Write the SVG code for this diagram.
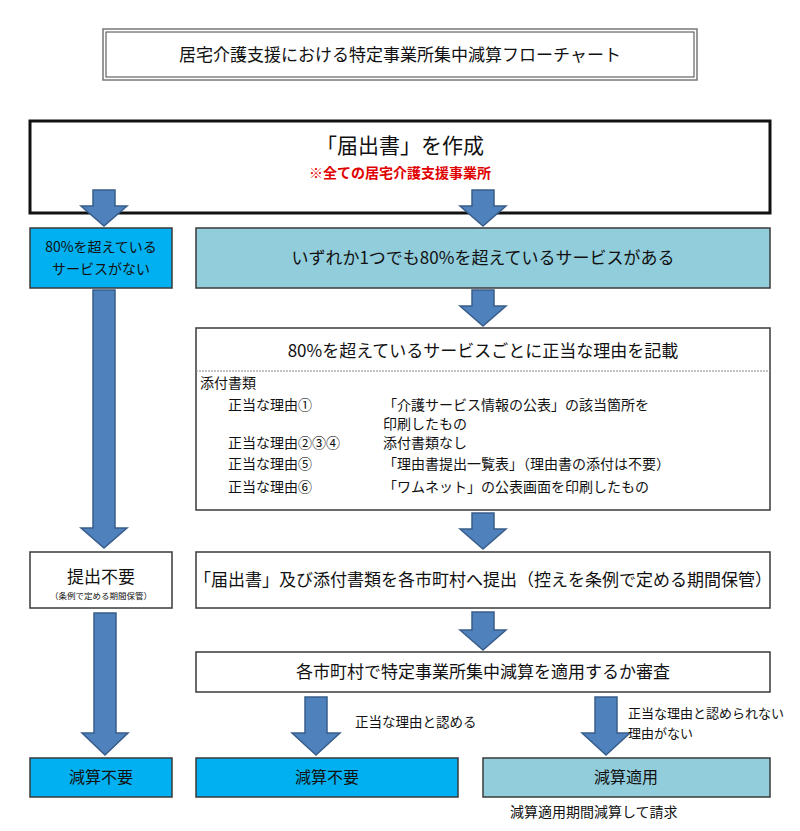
<svg xmlns="http://www.w3.org/2000/svg" width="800" height="831" viewBox="0 0 800 831">
<style>
text{font-family:"Noto Sans CJK JP","Noto Sans CJK SC",sans-serif;fill:#111}
.box{stroke:#3a3a3a;stroke-width:1.5}
.w{fill:#fff}
.b{fill:#00B0F0}
.lb{fill:#92CDDC}
.arr{fill:#4F81BD;stroke:#385D8A;stroke-width:1.5;stroke-linejoin:miter}
.c{text-anchor:middle}
</style>
<rect width="800" height="831" fill="#fff"/>
<g id="title">
<rect x="103" y="29" width="594" height="51" fill="#fff" stroke="#777" stroke-width="1.5"/>
<rect x="106" y="32" width="588" height="45" fill="none" stroke="#444" stroke-width="1"/>
<text x="400" y="61" class="c" font-size="17">居宅介護支援における特定事業所集中減算フローチャート</text>
</g>
<g id="n-create">
<rect x="30" y="121" width="740" height="92" fill="#fff" stroke="#111" stroke-width="3"/>
<text x="400" y="153" class="c" font-size="21">「届出書」を作成</text>
<text x="400" y="178" class="c" font-size="14" font-weight="bold" style="fill:#E00000">※全ての居宅介護支援事業所</text>
</g>
<g id="n-none">
<rect x="30" y="228" width="142" height="60" class="box b"/>
<text x="101" y="252" class="c" font-size="14">80%を超えている</text>
<text x="101" y="274" class="c" font-size="14">サービスがない</text>
</g>
<g id="n-any">
<rect x="196" y="228" width="574" height="60" class="box lb"/>
<text x="483" y="264" class="c" font-size="17">いずれか1つでも80%を超えているサービスがある</text>
</g>
<g id="n-reason">
<rect x="196" y="328" width="574" height="182" class="box w"/>
<line x1="196" y1="371" x2="770" y2="371" stroke="#888" stroke-width="1" stroke-dasharray="2,1"/>
<text x="483" y="357" class="c" font-size="17">80%を超えているサービスごとに正当な理由を記載</text>
<g font-size="14">
<text x="200" y="388">添付書類</text>
<text x="228" y="410">正当な理由①</text>
<text x="383" y="410">「介護サービス情報の公表」の該当箇所を</text>
<text x="383" y="429">印刷したもの</text>
<text x="228" y="448">正当な理由②③④</text>
<text x="383" y="448">添付書類なし</text>
<text x="228" y="469">正当な理由⑤</text>
<text x="383" y="469">「理由書提出一覧表」（理由書の添付は不要）</text>
<text x="228" y="492">正当な理由⑥</text>
<text x="383" y="492">「ワムネット」の公表画面を印刷したもの</text>
</g>
</g>
<g id="n-nosubmit">
<rect x="30" y="552" width="142" height="56" class="box w"/>
<text x="101" y="583" class="c" font-size="17">提出不要</text>
<text x="101" y="599" class="c" font-size="8.5">（条例で定める期間保管）</text>
</g>
<g id="n-submit">
<rect x="196" y="552" width="574" height="56" class="box w"/>
<text x="483" y="586" class="c" font-size="17">「届出書」及び添付書類を各市町村へ提出（控えを条例で定める期間保管）</text>
</g>
<g id="n-review">
<rect x="196" y="652" width="574" height="40" class="box w"/>
<text x="483" y="678" class="c" font-size="17">各市町村で特定事業所集中減算を適用するか審査</text>
</g>
<g id="n-nored1">
<rect x="30" y="758" width="142" height="39" class="box b"/>
<text x="101" y="783" class="c" font-size="16">減算不要</text>
</g>
<g id="n-nored2">
<rect x="196" y="758" width="262" height="39" class="box b"/>
<text x="327" y="783" class="c" font-size="16">減算不要</text>
</g>
<g id="n-apply">
<rect x="483" y="758" width="287" height="39" class="box lb"/>
<text x="626" y="783" class="c" font-size="16">減算適用</text>
<text x="510" y="817" font-size="14">減算適用期間減算して請求</text>
</g>
<g id="connectors">
<path class="arr" d="M93,190H115V206H127L104,226L81,206H93Z"/>
<path class="arr" d="M472,190H494V206H506L483,226L460,206H472Z"/>
<path class="arr" d="M93,290H115V528H127L104,548L81,528H93Z"/>
<path class="arr" d="M472,290H494V306H506L483,326L460,306H472Z"/>
<path class="arr" d="M472,513H494V529H506L483,549L460,529H472Z"/>
<path class="arr" d="M94,613H116V733H128L105,755L82,733H94Z"/>
<path class="arr" d="M472,612H494V630H506L483,650L460,630H472Z"/>
<path class="arr" d="M305,697H327V733H340L316,755L292,733H305Z"/>
<path class="arr" d="M595,697H617V733H630L606,755L582,733H595Z"/>
<text x="355" y="727" font-size="13.5">正当な理由と認める</text>
<text x="628" y="718" font-size="13">正当な理由と認められない</text>
<text x="628" y="738" font-size="13">理由がない</text>
</g>
</svg>
